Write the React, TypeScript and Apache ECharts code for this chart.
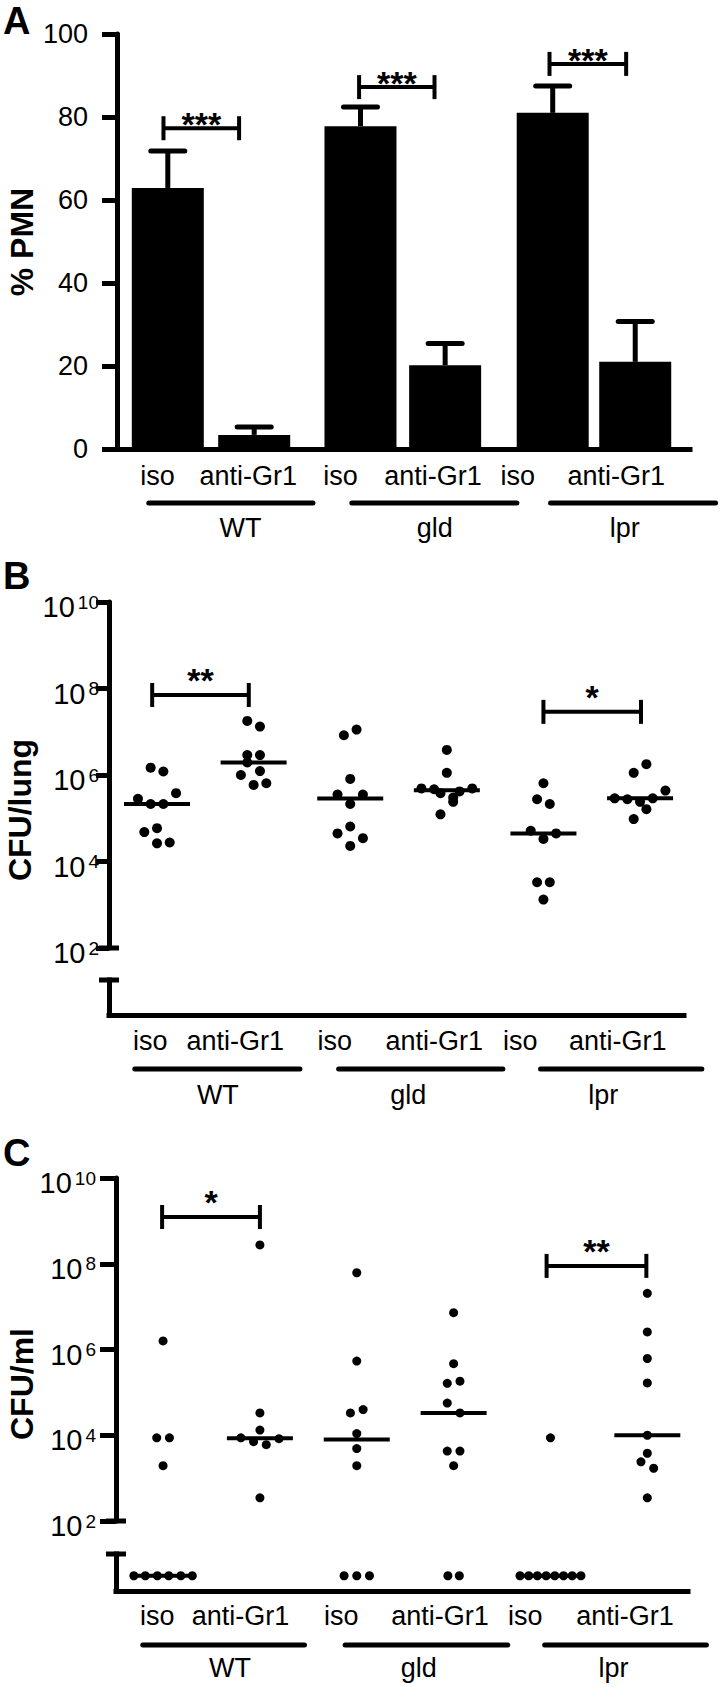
import React, { useEffect, useRef } from "react";
import * as echarts from "echarts";

const FONT = "'Liberation Sans', Arial, Helvetica, sans-serif";

// ---------------- shared categories ----------------
const strains = ["WT", "gld", "lpr"];
const treatments = ["iso", "anti-Gr1", "iso", "anti-Gr1", "iso", "anti-Gr1"];
const logExponentTicks = [2, 4, 6, 8, 10];

// ---------------- Panel A: % PMN (mean, SEM) ----------------
const pmnMean = [62.9, 3.4, 77.8, 20.2, 81.0, 21.0];
const pmnSem = [8.9, 1.9, 4.6, 5.2, 6.5, 9.7];
const pmnTicks = [0, 20, 40, 60, 80, 100];
const pmnSigLevels = [77.3, 87.2, 92.8];
const pmnSigMarks = ["***", "***", "***"];

// ---------------- Panel B: CFU/lung (log10 per animal) ----------------
const lungWtIso = [6.17, 6.08, 5.45, 5.33, 5.33, 5.58, 4.68, 4.77, 4.42, 4.44];
const lungWtAnti = [7.25, 7.12, 6.46, 6.46, 6.29, 6.0, 6.09, 5.77, 5.81];
const lungGldIso = [6.92, 7.05, 5.91, 5.55, 5.55, 5.33, 4.81, 4.65, 4.54, 4.36];
const lungGldAnti = [6.58, 6.05, 5.69, 5.67, 5.58, 5.48, 5.38, 5.62, 5.69, 5.09];
const lungLprIso = [5.81, 5.44, 5.33, 4.71, 4.52, 4.65, 3.52, 3.52, 3.12];
const lungLprAnti = [6.25, 6.05, 5.46, 5.44, 5.38, 5.46, 5.64, 5.21, 4.98];
const lungSigLevels = [7.85, 7.46];
const lungSigMarks = ["**", "*"];

// ---------------- Panel C: CFU/ml (log10 per animal, null = no growth) ----------------
const bloodWtIso = [6.2, 3.94, 3.94, 3.29, null, null, null, null, null, null];
const bloodWtAnti = [8.44, 4.52, 4.12, 3.94, 3.85, 3.78, 3.92, 2.54];
const bloodGldIso = [7.79, 5.73, 4.52, 4.6, 4.04, 3.69, 3.29, null, null, null];
const bloodGldAnti = [6.86, 5.67, 5.21, 5.26, 4.75, 4.52, 3.63, 3.63, 3.29, null, null];
const bloodLprIso = [3.94, null, null, null, null, null, null, null, null];
const bloodLprAnti = [7.31, 6.41, 5.79, 5.22, 4.0, 3.58, 3.38, 3.23, 2.54];
const bloodSigLevels = [9.09, 7.95];
const bloodSigMarks = ["*", "**"];

// ---------------- horizontal spreading of overlapping dots (in dot widths) ----------------
const lungSpread = [
  [-0.5, 0.5, -1.5, -0.5, 0.5, 1.5, -1, 0, 0, 1],
  [-0.5, 0.5, -0.5, 0.5, -0.5, -1, 0.5, 0, 1],
  [-0.5, 0.5, 0, -1, 1, 0, 0, -1, 1, 0],
  [0, 0, -2, -1, -0.5, 0.5, 0.5, 1, 2, -0.5],
  [0, -0.5, 0.5, -1, 0, 1, -0.5, 0.5, 0],
  [0.5, -0.5, -2, -1, 0, 1, 2, 0.5, -0.5],
];
const bloodSpread = [
  [0, -0.5, 0.5, 0, -2.3, -1.4, -0.45, 0.45, 1.4, 2.3],
  [0, 0, 0, -1.5, -0.5, 0.5, 1.5, 0],
  [0, 0, -0.5, 0.5, 0, 0, 0, -1, 0, 1],
  [0, 0, -0.5, 0.5, -0.5, 0.5, -0.5, 0.5, 0, -0.45, 0.45],
  [0, -2.4, -1.71, -1.03, -0.34, 0.34, 1.03, 1.71, 2.4],
  [0, 0, 0, 0, 0, 0, -0.5, 0.5, 0],
];

// ---------------- layout (pixels / axis units) ----------------
const A_GRID = { left: 117, top: 34, width: 573, height: 415 };
const A_X = { min: 0.412, max: 7.044 };
const A_POS = [1, 2, 3.23, 4.21, 5.455, 6.41];
const A_BRACKETS = [[0.95, 1.825], [3.214, 4.087], [5.418, 6.305]];
const A_TREAT_X = [0.88, 1.93, 3.0, 4.07, 5.05, 6.19];
const A_LINES = [[0.78, 2.68], [3.13, 5.04], [5.43, 7.34]];
const A_STRAIN_X = [1.84, 4.09, 6.29];

const B_UP = { left: 109, top: 602, width: 575, height: 346 };
const B_LOW = { left: 109, top: 980, width: 575, height: 35 };
const B_X = { min: 0.503, max: 6.455 };
const B_BRACKETS = [[0.95, 1.95], [5.0, 6.01]];
const B_TREAT_X = [0.93, 1.81, 2.84, 3.87, 4.76, 5.77];
const B_LINES = [[0.77, 2.48], [2.88, 4.58], [4.97, 6.64]];
const B_STRAIN_X = [1.63, 3.6, 5.62];

const C_UP = { left: 116, top: 1178, width: 572, height: 343 };
const C_LOW = { left: 116, top: 1554, width: 572, height: 37 };
const C_X = { min: 0.514, max: 6.42 };
const C_BRACKETS = [[0.99, 2.0], [4.96, 5.99]];
const C_TREAT_X = [0.94, 1.8, 2.84, 3.86, 4.74, 5.77];
const C_LINES = [[0.79, 2.46], [2.88, 4.56], [4.94, 6.61]];
const C_STRAIN_X = [1.69, 3.64, 5.65];

const GROUP_POS = [1, 2, 3, 4, 5, 6];
const DOT_STEP_PX = 12.7;
const BLACK = "#000";

function medianLog(vals: (number | null)[]): number | null {
  const lin = vals.map((v) => (v === null ? 0 : Math.pow(10, v))).sort((a, b) => a - b);
  const n = lin.length;
  const m = n % 2 ? lin[(n - 1) / 2] : (lin[n / 2 - 1] + lin[n / 2]) / 2;
  return m > 0 ? Math.log10(m) : null;
}

function textStyle(size: number, bold = false) {
  return {
    font: `${bold ? "bold " : ""}${size}px ${FONT}`,
    fill: BLACK,
    align: "center",
    textAlign: "center",
    verticalAlign: "middle",
    textVerticalAlign: "middle",
  };
}

function gridOf(b: { left: number; top: number; width: number; height: number }) {
  return { left: b.left, top: b.top, width: b.width, height: b.height, containLabel: false, outerBoundsMode: "none" };
}

function xAxisOf(r: { min: number; max: number }, idx: number, showLine: boolean) {
  return {
    type: "value",
    gridIndex: idx,
    min: r.min,
    max: r.max,
    show: showLine,
    position: "bottom",
    axisLine: { show: showLine, onZero: false, lineStyle: { color: BLACK, width: 5, cap: "square" } },
    axisTick: { show: false },
    axisLabel: { show: false },
    splitLine: { show: false },
  };
}

function logYAxis(idx: number, tickLen: number, margin: number) {
  return {
    type: "value",
    gridIndex: idx,
    min: logExponentTicks[0],
    max: logExponentTicks[logExponentTicks.length - 1],
    interval: 2,
    axisLine: { show: true, onZero: false, symbol: ["rect", "none"], symbolSize: [20, 5], lineStyle: { color: BLACK, width: 5 } },
    axisTick: { show: true, length: tickLen, lineStyle: { color: BLACK, width: 5 } },
    axisLabel: {
      show: true,
      margin,
      fontSize: 29,
      fontFamily: FONT,
      color: BLACK,
      padding: [10, 0, 0, 0],
      formatter: (v: number) => `{base|10}{sup|${v}}`,
      rich: {
        base: { fontSize: 29, fontFamily: FONT, color: BLACK },
        sup: { fontSize: 19, fontFamily: FONT, color: BLACK, verticalAlign: "top", padding: [0, 0, 0, 3] },
      },
    },
    splitLine: { show: false },
  };
}

function lowYAxis(idx: number) {
  return {
    type: "value",
    gridIndex: idx,
    min: -0.7,
    max: 1,
    axisLine: { show: true, onZero: false, symbol: ["none", "rect"], symbolSize: [20, 5], lineStyle: { color: BLACK, width: 5, cap: "square" } },
    axisTick: { show: false },
    axisLabel: { show: false },
    splitLine: { show: false },
  };
}

function bracketSeries(axis: number, ranges: number[][], levels: number[], marks: string[], starGap: number) {
  return {
    type: "custom",
    xAxisIndex: axis,
    yAxisIndex: axis,
    clip: false,
    silent: true,
    encode: { x: [0, 1], y: 2 },
    data: ranges.map((r, i) => [r[0], r[1], levels[i]]),
    renderItem: (params: any, api: any) => {
      const p1 = api.coord([api.value(0), api.value(2)]);
      const p2 = api.coord([api.value(1), api.value(2)]);
      const y = p1[1];
      const st = { stroke: BLACK, lineWidth: 4 };
      return {
        type: "group",
        children: [
          { type: "line", shape: { x1: p1[0], y1: y, x2: p2[0], y2: y }, style: st },
          { type: "line", shape: { x1: p1[0], y1: y - 12, x2: p1[0], y2: y + 12 }, style: st },
          { type: "line", shape: { x1: p2[0], y1: y - 12, x2: p2[0], y2: y + 12 }, style: st },
          {
            type: "text",
            x: (p1[0] + p2[0]) / 2,
            y: y - starGap,
            style: { text: marks[params.dataIndex], ...textStyle(34, true) },
          },
        ],
      };
    },
  };
}

function labelSeries(axis: number, treatX: number[], lines: number[][], strainX: number[], d1: number, d2: number, d3: number) {
  const treat = {
    type: "custom",
    xAxisIndex: axis,
    yAxisIndex: axis,
    clip: false,
    silent: true,
    encode: { x: 0, y: 1 },
    data: treatX.map((x) => [x, 0]),
    renderItem: (params: any, api: any) => {
      const cs = params.coordSys;
      const px = api.coord([api.value(0), api.value(1)])[0];
      return {
        type: "text",
        x: px,
        y: cs.y + cs.height + d1,
        style: { text: treatments[params.dataIndex], ...textStyle(27) },
      };
    },
  };
  const strain = {
    type: "custom",
    xAxisIndex: axis,
    yAxisIndex: axis,
    clip: false,
    silent: true,
    encode: { x: [0, 1, 2], y: 3 },
    data: lines.map((l, i) => [l[0], l[1], strainX[i], 0]),
    renderItem: (params: any, api: any) => {
      const cs = params.coordSys;
      const yb = cs.y + cs.height;
      const a = api.coord([api.value(0), api.value(3)])[0];
      const b = api.coord([api.value(1), api.value(3)])[0];
      const t = api.coord([api.value(2), api.value(3)])[0];
      return {
        type: "group",
        children: [
          { type: "line", shape: { x1: a, y1: yb + d2, x2: b, y2: yb + d2 }, style: { stroke: BLACK, lineWidth: 5, lineCap: "round" } },
          { type: "text", x: t, y: yb + d3, style: { text: strains[params.dataIndex], ...textStyle(27) } },
        ],
      };
    },
  };
  return [treat, strain];
}

function medianSeries(axis: number, data: number[][]) {
  return {
    type: "custom",
    xAxisIndex: axis,
    yAxisIndex: axis,
    clip: false,
    silent: true,
    encode: { x: 0, y: 1 },
    data,
    renderItem: (params: any, api: any) => {
      const c = api.coord([api.value(0), api.value(1)]);
      return { type: "line", shape: { x1: c[0] - 33, y1: c[1], x2: c[0] + 33, y2: c[1] }, style: { stroke: BLACK, lineWidth: 4 } };
    },
  };
}

function dotPanel(groups: (number | null)[][], spread: number[][], upAxis: number, lowAxis: number, grid: { width: number }, xr: { min: number; max: number }, size: number) {
  const step = DOT_STEP_PX / (grid.width / (xr.max - xr.min));
  const up: number[][] = [];
  const low: number[][] = [];
  const medUp: number[][] = [];
  const medLow: number[][] = [];
  groups.forEach((vals, g) => {
    vals.forEach((v, i) => {
      const x = GROUP_POS[g] + spread[g][i] * step;
      if (v === null) low.push([x, 0]);
      else up.push([x, v]);
    });
    const m = medianLog(vals);
    if (m === null) medLow.push([GROUP_POS[g], 0]);
    else medUp.push([GROUP_POS[g], m]);
  });
  const dotStyle = { color: BLACK, opacity: 1, borderWidth: 0 };
  const series: any[] = [
    { type: "scatter", xAxisIndex: upAxis, yAxisIndex: upAxis, data: up, symbol: "circle", symbolSize: size, itemStyle: dotStyle, silent: true, z: 3 },
    medianSeries(upAxis, medUp),
  ];
  if (low.length) {
    series.push({ type: "scatter", xAxisIndex: lowAxis, yAxisIndex: lowAxis, data: low, symbol: "circle", symbolSize: size, itemStyle: dotStyle, silent: true, z: 3 });
  }
  if (medLow.length) series.push(medianSeries(lowAxis, medLow));
  return series;
}

function buildOption() {
  const series: any[] = [];

  // Panel A bars
  series.push({
    type: "bar",
    xAxisIndex: 0,
    yAxisIndex: 0,
    data: A_POS.map((x, i) => [x, pmnMean[i]]),
    barWidth: 72,
    itemStyle: { color: BLACK, opacity: 1 },
    silent: true,
  });
  series.push({
    type: "custom",
    xAxisIndex: 0,
    yAxisIndex: 0,
    clip: false,
    silent: true,
    encode: { x: 0, y: [1, 2] },
    data: A_POS.map((x, i) => [x, pmnMean[i], pmnMean[i] + pmnSem[i]]),
    renderItem: (params: any, api: any) => {
      const b = api.coord([api.value(0), api.value(1)]);
      const t = api.coord([api.value(0), api.value(2)]);
      return {
        type: "group",
        children: [
          { type: "line", shape: { x1: b[0], y1: b[1], x2: t[0], y2: t[1] }, style: { stroke: BLACK, lineWidth: 5 } },
          { type: "line", shape: { x1: t[0] - 17, y1: t[1], x2: t[0] + 17, y2: t[1] }, style: { stroke: BLACK, lineWidth: 5, lineCap: "round" } },
        ],
      };
    },
  });
  series.push(bracketSeries(0, A_BRACKETS, pmnSigLevels, pmnSigMarks, 4));
  series.push(...labelSeries(0, A_TREAT_X, A_LINES, A_STRAIN_X, 27, 54, 79));

  // Panel B
  series.push(...dotPanel([lungWtIso, lungWtAnti, lungGldIso, lungGldAnti, lungLprIso, lungLprAnti], lungSpread, 1, 2, B_UP, B_X, 10));
  series.push(bracketSeries(1, B_BRACKETS, lungSigLevels, lungSigMarks, 15));
  series.push(...labelSeries(2, B_TREAT_X, B_LINES, B_STRAIN_X, 26, 54, 80));

  // Panel C
  series.push(...dotPanel([bloodWtIso, bloodWtAnti, bloodGldIso, bloodGldAnti, bloodLprIso, bloodLprAnti], bloodSpread, 3, 4, C_UP, C_X, 9));
  series.push(bracketSeries(3, C_BRACKETS, bloodSigLevels, bloodSigMarks, 15));
  series.push(...labelSeries(4, C_TREAT_X, C_LINES, C_STRAIN_X, 25, 54, 77));

  const letter = (t: string, y: number) => ({
    type: "text",
    x: 3,
    y,
    silent: true,
    style: { text: t, font: `bold 38px ${FONT}`, fill: BLACK, align: "left", textAlign: "left", verticalAlign: "top", textVerticalAlign: "top" },
  });
  const yName = (t: string, x: number, y: number) => ({
    type: "text",
    x,
    y,
    rotation: Math.PI / 2,
    silent: true,
    style: { text: t, ...textStyle(32, true) },
  });

  return {
    animation: false,
    backgroundColor: "#fff",
    textStyle: { fontFamily: FONT },
    grid: [gridOf(A_GRID), gridOf(B_UP), gridOf(B_LOW), gridOf(C_UP), gridOf(C_LOW)],
    xAxis: [xAxisOf(A_X, 0, true), xAxisOf(B_X, 1, false), xAxisOf(B_X, 2, true), xAxisOf(C_X, 3, false), xAxisOf(C_X, 4, true)],
    yAxis: [
      {
        type: "value",
        gridIndex: 0,
        min: pmnTicks[0],
        max: pmnTicks[pmnTicks.length - 1],
        interval: pmnTicks[1] - pmnTicks[0],
        axisLine: { show: true, onZero: false, lineStyle: { color: BLACK, width: 5 } },
        axisTick: { show: true, length: 15, lineStyle: { color: BLACK, width: 5 } },
        axisLabel: { show: true, fontSize: 27, fontFamily: FONT, color: BLACK, margin: 29 },
        splitLine: { show: false },
      },
      logYAxis(1, 13, 10),
      lowYAxis(2),
      logYAxis(3, 16, 20),
      lowYAxis(4),
    ],
    graphic: [
      letter("A", 2),
      letter("B", 557),
      letter("C", 1134),
      yName("% PMN", 22, 242),
      yName("CFU/lung", 20, 810),
      yName("CFU/ml", 22, 1384),
    ],
    series,
  };
}

export default function App() {
  const ref = useRef<HTMLDivElement>(null);
  useEffect(() => {
    document.body.style.margin = "0";
    const chart = echarts.init(ref.current as HTMLDivElement, null, { renderer: "svg" });
    chart.setOption(buildOption() as any);
    return () => chart.dispose();
  }, []);
  return <div ref={ref} style={{ width: 726, height: 1687, background: "#fff" }} />;
}
